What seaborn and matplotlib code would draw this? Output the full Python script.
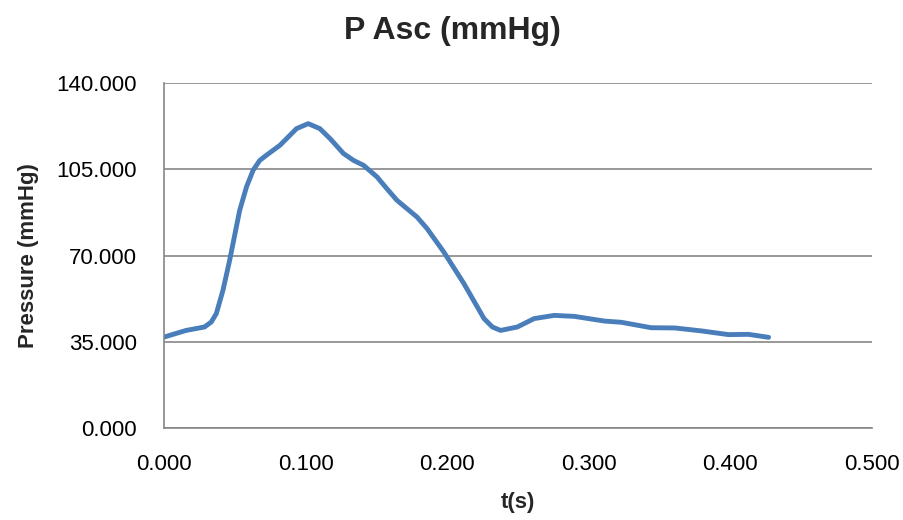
import numpy as np
import pandas as pd
import matplotlib
matplotlib.use("Agg")
import matplotlib.pyplot as plt
import seaborn as sns
from matplotlib.ticker import FormatStrFormatter

# values
t_s = [0.000, 0.0156, 0.0286, 0.0333, 0.0369, 0.0416, 0.0463, 0.0534, 0.0582,
       0.0629, 0.0676, 0.0723, 0.0818, 0.0865, 0.0936, 0.1018, 0.1100, 0.1173,
       0.1267, 0.1338, 0.1409, 0.1504, 0.1574, 0.1645, 0.1716, 0.1787, 0.1858,
       0.1976, 0.2118, 0.2260, 0.2319, 0.2377, 0.2496, 0.2614, 0.2756, 0.2898,
       0.3110, 0.3230, 0.3440, 0.3607, 0.3796, 0.3986, 0.4128, 0.4270]
p_asc = [36.9, 39.6, 41.0, 43.0, 46.4, 55.9, 68.0, 88.3, 97.8,
         104.6, 108.6, 110.7, 114.7, 117.4, 121.5, 123.5, 121.5, 117.4,
         111.4, 108.6, 106.6, 101.9, 97.1, 92.4, 89.0, 85.6, 80.9,
         71.4, 58.6, 44.4, 41.0, 39.6, 41.0, 44.4, 45.7, 45.3,
         43.4, 42.9, 40.7, 40.6, 39.4, 37.9, 38.0, 36.8]

df = pd.DataFrame({"t": t_s, "p": p_asc})

sns.set_style("white")
plt.rcParams['font.family'] = ['Liberation Sans', 'DejaVu Sans']

fig = plt.figure(figsize=(9.04, 5.2), dpi=100)
ax = fig.add_axes([0.1815, 0.1769, 0.783, 0.6635])

sns.lineplot(data=df, x="t", y="p", ax=ax, color="#4A7EBB", linewidth=3.5,
             solid_joinstyle="round", solid_capstyle="round")

ax.set_xlim(0, 0.5)
ax.set_ylim(0, 140)
ax.set_xticks(np.arange(0, 0.501, 0.1))
ax.set_yticks(np.arange(0, 140.1, 35))
ax.xaxis.set_major_formatter(FormatStrFormatter('%.3f'))
ax.yaxis.set_major_formatter(FormatStrFormatter('%.3f'))
ax.yaxis.grid(True, color="#868686", linewidth=1.2)
ax.set_axisbelow(True)

for side in ["top", "right"]:
    ax.spines[side].set_visible(False)
for side in ["left", "bottom"]:
    ax.spines[side].set_color("#868686")
    ax.spines[side].set_linewidth(1.2)
ax.tick_params(axis="both", direction="out", length=5.5, width=1.2, color="#868686",
               labelsize=16, labelcolor="black")
ax.tick_params(axis="y", pad=14)
ax.tick_params(axis="x", pad=13)

fig.text(0.5, 1 - 31 / 520, "P Asc (mmHg)", fontsize=23, fontweight="bold",
         ha="center", va="center")
ax.set_xlabel("t(s)", fontsize=16, fontweight="bold")
ax.set_ylabel("Pressure (mmHg)", fontsize=16, fontweight="bold")
ax.xaxis.set_label_coords(0.5, -0.185)
ax.yaxis.set_label_coords(-0.176, 0.5)

plt.savefig("out.png", dpi=100)
plt.close()
